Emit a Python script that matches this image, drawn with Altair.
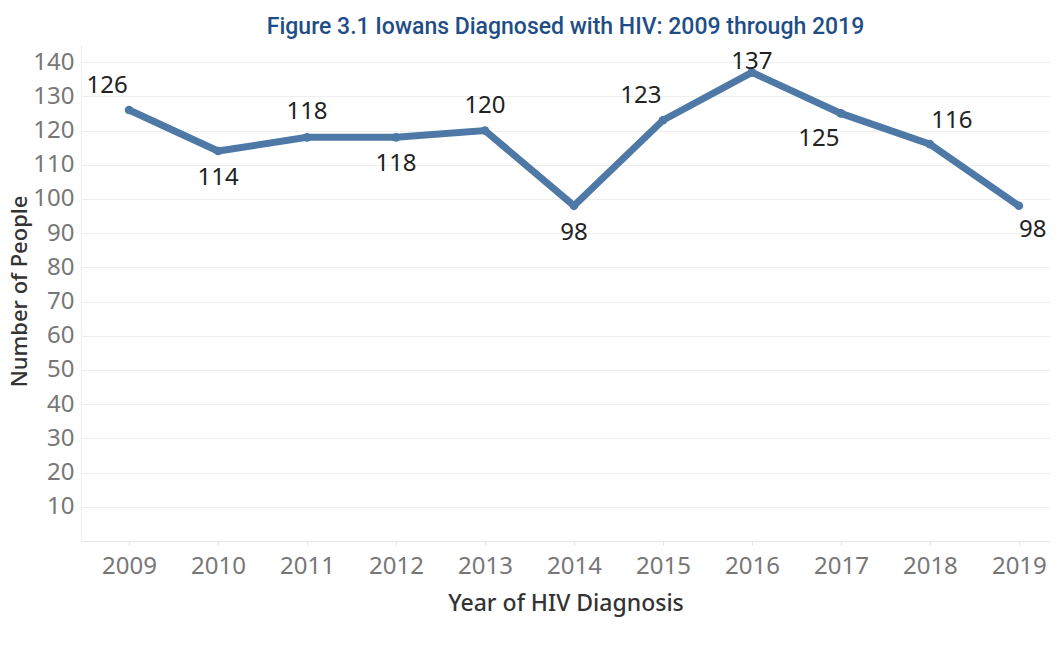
import altair as alt
import pandas as pd

years = [2009, 2010, 2011, 2012, 2013, 2014, 2015, 2016, 2017, 2018, 2019]
counts = [126, 114, 118, 118, 120, 98, 123, 137, 125, 116, 98]
label_place = ["above-left", "below", "above", "below", "above", "below",
               "above-left", "top", "below-left", "above-right", "below-right"]
y_ticks = [10, 20, 30, 40, 50, 60, 70, 80, 90, 100, 110, 120, 130, 140]

df = pd.DataFrame({"year": years, "count": counts, "place": label_place})

offsets = {
    "above-left": (-22, -24),
    "below": (0, 27),
    "above": (0, -25),
    "top": (0, -10),
    "below-left": (-22, 26),
    "above-right": (22, -23),
    "below-right": (14, 24),
}

FONT = "Noto Sans"
LINE_COLOR = "#4e79a7"

x = alt.X(
    "year:Q",
    scale=alt.Scale(domain=[2008.46, 2019.35], nice=False, zero=False),
    axis=alt.Axis(
        values=years, format="d", title="Year of HIV Diagnosis", grid=False,
        ticks=True, tickSize=4, tickColor="#e6e6e6", domainColor="#e6e6e6",
        labelFontSize=24, labelColor="#777777", labelPadding=9, labelFont=FONT,
        titleFont=FONT, titleFontSize=23, titleFontWeight=500, titleColor="#333333",
        titlePadding=14,
    ),
)
y = alt.Y(
    "count:Q",
    scale=alt.Scale(domain=[0, 145], nice=False),
    axis=alt.Axis(
        values=y_ticks, title="Number of People", ticks=False,
        domainColor="#f0f0f0", gridColor="#eeeeee", labelFontSize=24,
        labelColor="#777777", labelPadding=7, labelFont=FONT,
        titleFont=FONT, titleFontSize=22, titleFontWeight=500, titleColor="#333333",
        titleX=-50, titleY=246, titleAngle=270, titleBaseline="bottom",
        titleAlign="center",
    ),
)

base = alt.Chart(df)
line = base.mark_line(color=LINE_COLOR, strokeWidth=7).encode(x=x, y=y)
points = base.mark_circle(color=LINE_COLOR, size=75, opacity=1).encode(x=x, y=y)

texts = []
for place, (dx, dy) in offsets.items():
    texts.append(
        base.transform_filter(alt.datum.place == place)
        .mark_text(dx=dx, dy=dy, fontSize=24, font=FONT, color="#222222",
                   align="center", baseline="middle")
        .encode(x=x, y=y, text="count:Q")
    )

chart = alt.layer(line, points, *texts).properties(
    width=969,
    height=496,
    title=alt.TitleParams(
        "Figure 3.1 Iowans Diagnosed with HIV: 2009 through 2019",
        font="Roboto", fontSize=23, fontWeight=500, color="#1f4e87",
        anchor="middle", offset=6,
    ),
    autosize=alt.AutoSizeParams(type="none"),
    padding={"left": 73, "top": 37, "right": 0, "bottom": 100},
).configure_view(stroke=None)

chart.save("out.html", embed_options={"renderer": "svg", "actions": False})
